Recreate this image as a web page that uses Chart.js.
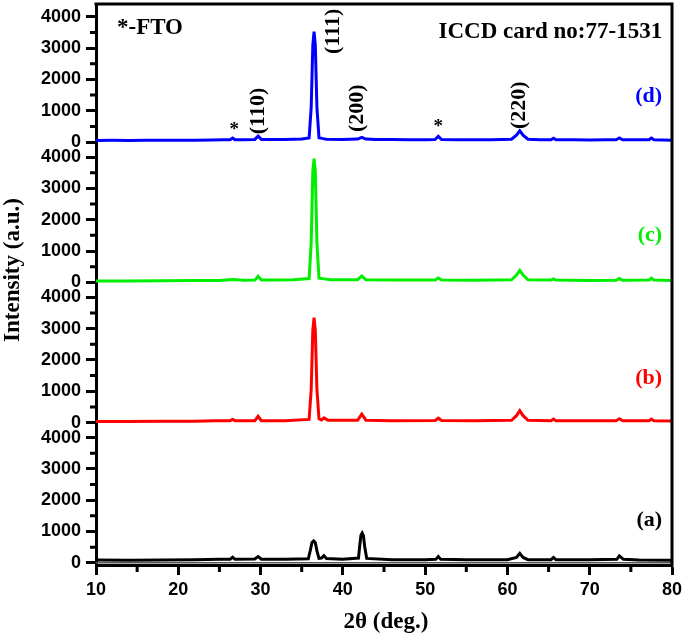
<!DOCTYPE html>
<html>
<head>
<meta charset="utf-8">
<script src="https://cdn.jsdelivr.net/npm/chart.js@4.4.0/dist/chart.umd.min.js"></script>
<style>
body { margin: 0; background: #fff; }
</style>
</head>
<body>
<canvas id="xrd" width="685" height="638"></canvas>
<script>
// XRD patterns, 2theta (deg) vs intensity (a.u.)
var thetaD = [10, 12, 14, 16, 18, 20, 22, 24, 25.5, 26.3, 26.6, 26.9, 28, 29.3, 29.7, 30.1, 31, 33, 35, 35.9, 36.15, 36.35, 36.5, 36.65, 36.85, 37.1, 37.6, 38, 40, 41.8, 42.3, 42.8, 44, 46, 48, 50, 51.2, 51.6, 52, 54, 56, 58, 60.5, 61.1, 61.5, 61.9, 62.5, 64, 65.3, 65.6, 65.9, 68, 70, 72, 73.2, 73.6, 74, 76, 77.2, 77.5, 77.8, 80];
var countsD = [50, 55, 50, 55, 60, 55, 60, 65, 70, 75, 130, 75, 75, 85, 190, 85, 80, 85, 95, 130, 1100, 3100, 3530, 3100, 1100, 140, 110, 90, 85, 95, 150, 95, 80, 80, 75, 75, 80, 180, 80, 70, 75, 75, 90, 220, 360, 220, 90, 70, 70, 120, 70, 70, 65, 70, 75, 130, 75, 70, 75, 130, 75, 60];

var thetaC = [10, 14, 18, 22, 25, 26.6, 28, 29.3, 29.7, 30.1, 32, 34, 35.9, 36.15, 36.35, 36.5, 36.65, 36.85, 37.1, 37.7, 38.5, 41.8, 42.3, 42.8, 46, 50, 51.2, 51.6, 52, 56, 60.5, 61.1, 61.5, 61.9, 62.5, 65.3, 65.6, 65.9, 70, 73.2, 73.6, 74, 77.2, 77.5, 77.8, 80];
var countsC = [40, 45, 50, 55, 60, 90, 65, 70, 190, 70, 70, 80, 120, 1250, 3550, 3950, 3550, 1250, 130, 110, 80, 85, 200, 85, 70, 70, 75, 140, 75, 65, 80, 230, 380, 230, 80, 70, 110, 70, 60, 65, 120, 65, 70, 130, 70, 55];

var thetaB = [10, 14, 18, 22, 24.5, 26.3, 26.6, 26.9, 28, 29.3, 29.7, 30.1, 33, 35.9, 36.15, 36.35, 36.5, 36.65, 36.85, 37.1, 37.4, 37.7, 38.2, 41.8, 42.3, 42.8, 46, 51.2, 51.6, 52, 56, 60.5, 61.1, 61.5, 61.9, 62.5, 65.3, 65.6, 65.9, 70, 73.2, 73.6, 74, 77.2, 77.5, 77.8, 80];
var countsB = [30, 35, 40, 45, 60, 60, 100, 60, 55, 60, 200, 60, 60, 100, 1050, 2950, 3350, 2950, 1050, 120, 80, 150, 70, 75, 270, 75, 60, 65, 140, 65, 60, 70, 220, 380, 220, 70, 60, 110, 60, 55, 60, 120, 60, 60, 110, 60, 50];

var thetaA = [10, 14, 18, 22, 25, 26.3, 26.6, 26.9, 29.3, 29.7, 30.1, 33, 35.8, 36.05, 36.25, 36.45, 36.65, 36.85, 37.1, 37.4, 37.7, 38, 40, 41.9, 42.05, 42.2, 42.35, 42.5, 42.65, 42.9, 46, 50, 51.3, 51.6, 51.9, 55, 60, 61.1, 61.5, 61.9, 62.5, 65.3, 65.6, 65.9, 70, 73.3, 73.6, 74.1, 76, 80];
var countsA = [90, 85, 90, 100, 110, 110, 180, 110, 120, 200, 115, 110, 130, 400, 650, 700, 640, 380, 140, 150, 230, 140, 110, 150, 550, 880, 950, 870, 520, 140, 100, 100, 110, 200, 110, 100, 100, 170, 300, 170, 100, 100, 170, 100, 95, 110, 220, 110, 90, 85];

var baseTheta = [10, 80];
var baseCounts = [0, 0];

var intensityTicks = [0, 1000, 2000, 3000, 4000];
var angleTicks = [10, 20, 30, 40, 50, 60, 70, 80];

function toPoints(xs, ys) {
    return xs.map(function (v, i) { return { x: v, y: ys[i] }; });
}

var tickFont = { family: '"Liberation Sans", Arial, sans-serif', size: 18, weight: 'bold' };
var serif = '"Liberation Serif", "Times New Roman", serif';

function panelAxis() {
    return {
        type: 'linear',
        position: 'left',
        stack: 'xrd',
        stackWeight: 1,
        min: -70,
        max: 4410,
        afterBuildTicks: function (s) { s.ticks = intensityTicks.map(function (v) { return { value: v }; }); },
        afterFit: function (s) { s.width = 96; s.paddingTop = 0; s.paddingBottom = 0; },
        ticks: { font: tickFont, color: '#000', padding: 5, autoSkip: false,
                 callback: function (v) { return String(v); } },
        border: { display: true, width: 3, color: '#000' },
        grid: { drawOnChartArea: false, tickLength: 10, tickWidth: 3, tickColor: '#000' }
    };
}

var decor = {
    id: 'decor',
    afterDraw: function (chart) {
        var ctx = chart.ctx, a = chart.chartArea, sx = chart.scales.x;
        var yD = chart.scales.yD;
        ctx.save();
        ctx.strokeStyle = '#000';
        ctx.lineWidth = 3;
        // top and right frame
        ctx.beginPath();
        ctx.moveTo(a.left - 1.5, a.top);
        ctx.lineTo(a.right, a.top);
        ctx.lineTo(a.right, a.bottom + 1.5);
        ctx.stroke();
        // minor ticks
        ctx.beginPath();
        [15, 25, 35, 45, 55, 65, 75].forEach(function (v) {
            var px = sx.getPixelForValue(v);
            ctx.moveTo(px, a.bottom);
            ctx.lineTo(px, a.bottom + 7);
        });
        ['yA', 'yB', 'yC', 'yD'].forEach(function (id) {
            var s = chart.scales[id];
            [500, 1500, 2500, 3500].forEach(function (v) {
                var py = s.getPixelForValue(v);
                ctx.moveTo(a.left, py);
                ctx.lineTo(a.left - 6, py);
            });
        });
        ctx.stroke();

        // texts
        ctx.fillStyle = '#000';
        ctx.textBaseline = 'middle';
        ctx.font = 'bold 23px ' + serif;
        ctx.textAlign = 'left';
        ctx.fillText('*-FTO', sx.getPixelForValue(12.55), yD.getPixelForValue(3650));
        ctx.textAlign = 'right';
        ctx.fillText('ICCD card no:77-1531', sx.getPixelForValue(78.8), yD.getPixelForValue(3520));

        ctx.font = 'bold 22px ' + serif;
        var tags = [['(d)', 'yD', '#0000ff', 1470], ['(c)', 'yC', '#00ee00', 1500], ['(b)', 'yB', '#ff0000', 1420], ['(a)', 'yA', '#000000', 1350]];
        tags.forEach(function (t) {
            ctx.fillStyle = t[2];
            ctx.fillText(t[0], sx.getPixelForValue(78.8), chart.scales[t[1]].getPixelForValue(t[3]));
        });

        // stars
        ctx.fillStyle = '#000';
        ctx.textAlign = 'center';
        ctx.font = 'bold 19px ' + serif;
        ctx.fillText('*', sx.getPixelForValue(26.8), yD.getPixelForValue(380));
        ctx.fillText('*', sx.getPixelForValue(51.6), yD.getPixelForValue(480));

        // rotated hkl labels
        ctx.font = 'bold 22px ' + serif;
        ctx.textAlign = 'left';
        [['(110)', 29.7, 250], ['(111)', 38.8, 2816], ['(200)', 41.8, 320], ['(220)', 61.5, 416]].forEach(function (p) {
            ctx.save();
            ctx.translate(sx.getPixelForValue(p[1]), yD.getPixelForValue(p[2]));
            ctx.rotate(-Math.PI / 2);
            ctx.fillText(p[0], 0, 0);
            ctx.restore();
        });

        // axis titles
        ctx.textAlign = 'center';
        ctx.font = 'bold 23px ' + serif;
        ctx.fillText('2\u03b8 (deg.)', (a.left + a.right) / 2 + 2, 622);
        ctx.save();
        ctx.translate(13, 270);
        ctx.rotate(-Math.PI / 2);
        ctx.fillText('Intensity (a.u.)', 0, 0);
        ctx.restore();
        ctx.restore();
    }
};

var ctx = document.getElementById('xrd').getContext('2d');
var chart = new Chart(ctx, {
    type: 'line',
    data: {
        datasets: [
            { label: '(d)', data: toPoints(thetaD, countsD), yAxisID: 'yD', borderColor: '#0000ff' },
            { label: '(c)', data: toPoints(thetaC, countsC), yAxisID: 'yC', borderColor: '#00ee00' },
            { label: '(b)', data: toPoints(thetaB, countsB), yAxisID: 'yB', borderColor: '#ff0000' },
            { label: '(a)', data: toPoints(thetaA, countsA), yAxisID: 'yA', borderColor: '#000000' },
            { label: 'base', data: toPoints(baseTheta, baseCounts), yAxisID: 'yA', borderColor: '#555', borderWidth: 1.5 }
        ]
    },
    options: {
        responsive: false,
        animation: false,
        devicePixelRatio: 1,
        layout: { padding: { top: 4, right: 13, bottom: 0, left: 0 } },
        elements: {
            point: { radius: 0 },
            line: { borderWidth: 3, tension: 0 }
        },
        plugins: { legend: { display: false }, tooltip: { enabled: false } },
        scales: {
            x: {
                type: 'linear',
                position: 'bottom',
                min: 10,
                max: 80,
                afterBuildTicks: function (s) { s.ticks = angleTicks.map(function (v) { return { value: v }; }); },
                afterFit: function (s) { s.height = 73; s.paddingLeft = 0; s.paddingRight = 0; },
                ticks: { font: tickFont, color: '#000', padding: 4 },
                border: { display: true, width: 3, color: '#000' },
                grid: { drawOnChartArea: false, tickLength: 10, tickWidth: 3, tickColor: '#000' }
            },
            // stacked panels: first listed is drawn at the bottom
            yA: panelAxis(),
            yB: panelAxis(),
            yC: panelAxis(),
            yD: panelAxis()
        }
    },
    plugins: [decor]
});
</script>
</body>
</html>
